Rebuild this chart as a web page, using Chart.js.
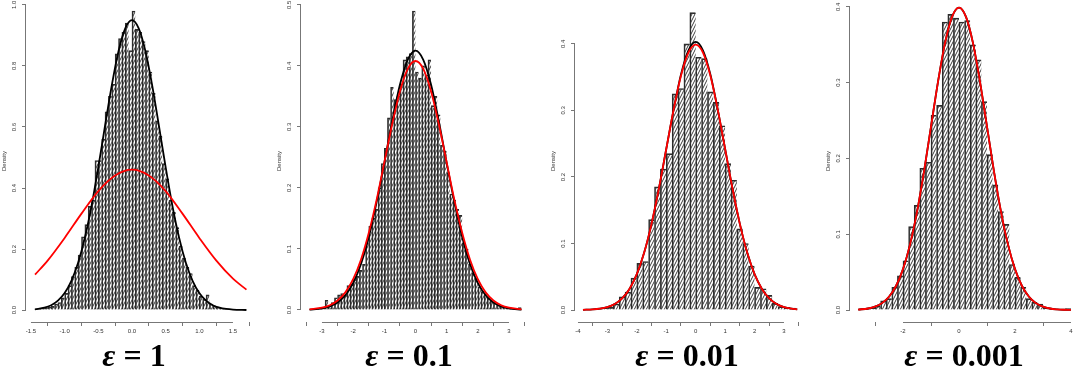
<!DOCTYPE html>
<html>
<head>
<meta charset="utf-8">
<script src="https://cdn.jsdelivr.net/npm/chart.js@4.4.1/dist/chart.umd.min.js"></script>
<style>
  body { margin: 0; background: #fff; overflow: hidden; }
  #wrap { position: relative; width: 1074px; height: 378px; overflow: hidden; }
  canvas { position: absolute; top: 0; }
  .eps { position: absolute; top: 339px; width: 200px; text-align: center;
         font: bold 32px/32px "Liberation Serif", "DejaVu Serif", serif; color: #000; }
  .eps i { font-style: italic; }
</style>
</head>
<body>
<div id="wrap">
  <canvas id="c1" width="256" height="340" style="left:0px"></canvas>
  <canvas id="c2" width="255" height="340" style="left:275px"></canvas>
  <canvas id="c3" width="257" height="340" style="left:549px"></canvas>
  <canvas id="c4" width="250" height="340" style="left:824px"></canvas>
  <div class="eps" style="left:34px"><i>ε</i> = 1</div>
  <div class="eps" style="left:309px"><i>ε</i> = 0.1</div>
  <div class="eps" style="left:587px"><i>ε</i> = 0.01</div>
  <div class="eps" style="left:864px"><i>ε</i> = 0.001</div>
</div>
<script>
// ---- panel 1 : eps = 1 (bins of 0.05)
const bins1 = [-1.425,-1.375,-1.325,-1.275,-1.225,-1.175,-1.125,-1.075,-1.025,-0.975,
  -0.925,-0.875,-0.825,-0.775,-0.725,-0.675,-0.625,-0.575,-0.525,-0.475,
  -0.425,-0.375,-0.325,-0.275,-0.225,-0.175,-0.125,-0.075,-0.025,
  0.025,0.075,0.125,0.175,0.225,0.275,0.325,0.375,0.425,0.475,
  0.525,0.575,0.625,0.675,0.725,0.775,0.825,0.875,0.925,0.975,
  1.025,1.075,1.125,1.175,1.225,1.275,1.325,1.375,1.425,1.475,1.525,1.575,1.625,1.675];
const dens1 = [0.003,0.004,0.006,0.008,0.01,0.012,0.02,0.025,0.04,0.055,
  0.08,0.11,0.14,0.18,0.24,0.28,0.34,0.36,0.49,0.49,
  0.56,0.65,0.70,0.74,0.84,0.89,0.91,0.94,0.85,
  0.98,0.92,0.91,0.88,0.85,0.78,0.71,0.62,0.57,0.48,
  0.43,0.36,0.32,0.27,0.21,0.17,0.14,0.12,0.08,0.065,
  0.045,0.035,0.05,0.02,0.014,0.01,0.006,0.004,0.003,0.002,0.001,0.001,0.0005,0.002];
const curveX1 = [-1.44,-1.3,-1.2,-1.1,-1.0,-0.9,-0.8,-0.7,-0.6,-0.5,-0.4,-0.3,-0.2,-0.1,0,
  0.1,0.2,0.3,0.4,0.5,0.6,0.7,0.8,0.9,1.0,1.1,1.2,1.3,1.4,1.5,1.7];
const black1 = [0.0027,0.0079,0.016,0.031,0.056,0.096,0.155,0.237,0.342,0.468,0.604,0.736,0.848,0.923,0.95,
  0.923,0.848,0.736,0.604,0.468,0.342,0.237,0.155,0.096,0.056,0.031,0.016,0.0079,0.0037,0.0016,0.0003];
const redX1 = [-1.44,-1.25,-1,-0.75,-0.5,-0.25,0,0.25,0.5,0.75,1,1.25,1.5,1.7];
const red1 = [0.116,0.163,0.2365,0.316,0.39,0.441,0.46,0.441,0.39,0.316,0.2365,0.163,0.103,0.067];
const xTicks1 = [-1.5,-1,-0.5,0,0.5,1,1.5];
const xLabels1 = ['-1.5','-1.0','-0.5','0.0','0.5','1.0','1.5'];
const yTicks1 = [0,0.2,0.4,0.6,0.8,1.0];
const yLabels1 = ['0.0','0.2','0.4','0.6','0.8','1.0'];

// ---- panel 2 : eps = 0.1 (bins of 0.1)
const bins2 = [-3.35,-3.25,-3.15,-3.05,-2.95,-2.85,-2.75,-2.65,-2.55,-2.45,
  -2.35,-2.25,-2.15,-2.05,-1.95,-1.85,-1.75,-1.65,-1.55,-1.45,
  -1.35,-1.25,-1.15,-1.05,-0.95,-0.85,-0.75,-0.65,-0.55,-0.45,
  -0.35,-0.25,-0.15,-0.05,0.05,0.15,0.25,0.35,0.45,0.55,
  0.65,0.75,0.85,0.95,1.05,1.15,1.25,1.35,1.45,1.55,
  1.65,1.75,1.85,1.95,2.05,2.15,2.25,2.35,2.45,2.55,
  2.65,2.75,2.85,2.95,3.05,3.15,3.25,3.35];
const dens2 = [0.001,0,0.002,0.002,0.004,0.016,0.007,0.012,0.02,0.025,
  0.027,0.024,0.04,0.042,0.05,0.055,0.065,0.075,0.11,0.137,
  0.15,0.165,0.2,0.24,0.265,0.315,0.365,0.345,0.35,0.37,
  0.41,0.415,0.42,0.49,0.39,0.38,0.40,0.385,0.41,0.335,
  0.35,0.32,0.27,0.26,0.225,0.19,0.18,0.165,0.155,0.11,
  0.10,0.075,0.06,0.052,0.038,0.03,0.027,0.02,0.015,0.012,
  0.008,0.006,0.005,0.003,0.002,0.001,0.001,0.004];
const curveX2 = [-3.4,-3,-2.75,-2.5,-2.25,-2,-1.75,-1.5,-1.25,-1,-0.75,-0.5,-0.25,0,
  0.25,0.5,0.75,1,1.25,1.5,1.75,2,2.25,2.5,2.75,3,3.4];
const black2 = [0.0006,0.0026,0.0059,0.0124,0.0242,0.0442,0.0751,0.119,0.176,0.241,0.309,0.369,0.410,0.425,
  0.410,0.369,0.309,0.241,0.176,0.119,0.0751,0.0442,0.0242,0.0124,0.0059,0.0026,0.0006];
const red2 = [0.001,0.0037,0.0078,0.0156,0.0289,0.0504,0.0823,0.126,0.180,0.242,0.304,0.358,0.395,0.408,
  0.395,0.358,0.304,0.242,0.180,0.126,0.0823,0.0504,0.0289,0.0156,0.0078,0.0037,0.001];
const xTicks2 = [-3,-2,-1,0,1,2,3];
const xLabels2 = ['-3','-2','-1','0','1','2','3'];
const yTicks2 = [0,0.1,0.2,0.3,0.4,0.5];
const yLabels2 = ['0.0','0.1','0.2','0.3','0.4','0.5'];

// ---- panel 3 : eps = 0.01 (bins of 0.2)
const bins3 = [-3.7,-3.5,-3.3,-3.1,-2.9,-2.7,-2.5,-2.3,-2.1,-1.9,-1.7,-1.5,-1.3,-1.1,-0.9,-0.7,-0.5,-0.3,-0.1,
  0.1,0.3,0.5,0.7,0.9,1.1,1.3,1.5,1.7,1.9,2.1,2.3,2.5,2.7,2.9,3.1,3.3];
const dens3 = [0.001,0.001,0.002,0.003,0.004,0.009,0.02,0.027,0.048,0.07,0.073,0.136,0.185,0.212,0.235,0.325,0.333,0.40,0.447,
  0.38,0.378,0.328,0.312,0.277,0.22,0.195,0.122,0.10,0.066,0.034,0.032,0.022,0.01,0.005,0.004,0.003];
const curveX3 = [-3.83,-3.5,-3.25,-3,-2.75,-2.5,-2.25,-2,-1.75,-1.5,-1.25,-1,-0.75,-0.5,-0.25,0,
  0.25,0.5,0.75,1,1.25,1.5,1.75,2,2.25,2.5,2.75,3,3.25,3.45];
const black3 = [0.0003,0.0009,0.002,0.0044,0.0091,0.0175,0.0317,0.054,0.0863,0.1295,0.1826,0.242,0.3011,0.354,0.390,0.403,
  0.390,0.354,0.3011,0.242,0.1826,0.1295,0.0863,0.054,0.0317,0.0175,0.0091,0.0044,0.002,0.001];
const red3 = [0.0003,0.0009,0.002,0.0044,0.0091,0.0175,0.0317,0.054,0.0863,0.1295,0.1826,0.242,0.3011,0.3521,0.3867,0.3989,
  0.3867,0.3521,0.3011,0.242,0.1826,0.1295,0.0863,0.054,0.0317,0.0175,0.0091,0.0044,0.002,0.001];
const xTicks3 = [-4,-3,-2,-1,0,1,2,3];
const xLabels3 = ['-4','-3','-2','-1','0','1','2','3'];
const yTicks3 = [0,0.1,0.2,0.3,0.4];
const yLabels3 = ['0.0','0.1','0.2','0.3','0.4'];

// ---- panel 4 : eps = 0.001 (bins of 0.2)
const bins4 = [-3.5,-3.3,-3.1,-2.9,-2.7,-2.5,-2.3,-2.1,-1.9,-1.7,-1.5,-1.3,-1.1,-0.9,-0.7,-0.5,-0.3,-0.1,
  0.1,0.3,0.5,0.7,0.9,1.1,1.3,1.5,1.7,1.9,2.1,2.3,2.5,2.7,2.9,3.1,3.3,3.5,3.7,3.9];
const dens4 = [0.001,0.001,0.003,0.005,0.012,0.015,0.03,0.045,0.065,0.11,0.138,0.187,0.195,0.257,0.27,0.38,0.39,0.385,
  0.38,0.382,0.35,0.33,0.275,0.205,0.165,0.13,0.113,0.06,0.043,0.03,0.015,0.01,0.008,0.003,0.002,0.001,0.0005,0.002];
const curveX4 = [-3.6,-3.25,-3,-2.75,-2.5,-2.25,-2,-1.75,-1.5,-1.25,-1,-0.75,-0.5,-0.25,0,
  0.25,0.5,0.75,1,1.25,1.5,1.75,2,2.25,2.5,2.75,3,3.25,3.5,3.75,4.0];
const black4 = [0.0006,0.002,0.0044,0.0091,0.0175,0.0317,0.054,0.0863,0.1295,0.1826,0.242,0.3011,0.3521,0.3867,0.3989,
  0.3867,0.3521,0.3011,0.242,0.1826,0.1295,0.0863,0.054,0.0317,0.0175,0.0091,0.0044,0.002,0.0009,0.00035,0.00013];
const red4 = [0.0006,0.002,0.0044,0.0091,0.0175,0.0317,0.054,0.0863,0.1295,0.1826,0.242,0.3011,0.3521,0.3867,0.3989,
  0.3867,0.3521,0.3011,0.242,0.1826,0.1295,0.0863,0.054,0.0317,0.0175,0.0091,0.0044,0.002,0.0009,0.00035,0.00013];
const xTicks4 = [-2,0,2,4];
const xLabels4 = ['-2','0','2','4'];
const yTicks4 = [0,0.1,0.2,0.3,0.4];
const yLabels4 = ['0.0','0.1','0.2','0.3','0.4'];

const tickFont = { family: '"Liberation Sans", Arial, sans-serif', size: 6 };
const inkColor = '#333';

//  R style axis lines: only from first to last tick
const rAxes = {
    id: 'rAxes',
    afterDraw(chart) {
        const { ctx } = chart;
        const sx = chart.scales.x, sy = chart.scales.y;
        const xt = sx.ticks, yt = sy.ticks;
        ctx.save();
        ctx.strokeStyle = '#777';
        ctx.lineWidth = 1;
        ctx.beginPath();
        ctx.moveTo(sx.getPixelForValue(xt[0].value), sx.top + 0.5);
        ctx.lineTo(sx.getPixelForValue(xt[xt.length - 1].value), sx.top + 0.5);
        ctx.moveTo(sy.right - 0.5, sy.getPixelForValue(yt[0].value));
        ctx.lineTo(sy.right - 0.5, sy.getPixelForValue(yt[yt.length - 1].value));
        ctx.stroke();
        ctx.restore();
    }
};

//  diagonal hatching like R's density= fill
const hatch = (el) => {
    const c = document.createElement('canvas');
    c.width = 3; c.height = 6;
    const g = c.getContext('2d');
    g.strokeStyle = '#3c3c3c';
    g.lineWidth = 1;
    g.beginPath();
    g.moveTo(-3, 6); g.lineTo(0, 0);
    g.moveTo(0, 6); g.lineTo(3, 0);
    g.moveTo(3, 6); g.lineTo(6, 0);
    g.stroke();
    return el.getContext('2d').createPattern(c, 'repeat');
};

const pts = (xs, ys) => xs.map((x, i) => ({ x, y: ys[i] }));

const drawPanel = (id, p) => {
    const el = document.getElementById(id);
    new Chart(el, {
        type: 'bar',
        data: {
            datasets: [
                { type: 'line', data: pts(p.redX, p.red), borderColor: '#ff0000', borderWidth: 1.8,
                  pointRadius: 0, cubicInterpolationMode: 'monotone', order: 1 },
                { type: 'line', data: pts(p.blackX, p.black), borderColor: '#000', borderWidth: 1.8,
                  pointRadius: 0, cubicInterpolationMode: 'monotone', order: 2 },
                { type: 'bar', data: pts(p.bins, p.dens), backgroundColor: hatch(el), borderColor: '#2b2b2b',
                  borderWidth: { left: 1, top: 1, right: 0, bottom: 0 }, borderSkipped: false,
                  barPercentage: 1, categoryPercentage: 1, order: 3 }
            ]
        },
        options: {
            responsive: false,
            animation: false,
            events: [],
            layout: { padding: 0 },
            plugins: { legend: { display: false }, tooltip: { enabled: false } },
            scales: {
                x: {
                    type: 'linear', min: p.xMin, max: p.xMax, offset: false, bounds: 'data',
                    afterBuildTicks: s => { s.ticks = p.xTicks.map(v => ({ value: v })); },
                    afterFit: s => { s.height = 18; s.paddingLeft = 0; s.paddingRight = 0; },
                    ticks: { font: tickFont, color: inkColor, padding: 2, maxRotation: 0, autoSkip: false,
                             callback: (v, i) => p.xLabels[i] },
                    grid: { drawOnChartArea: false, tickLength: 4, color: '#777' },
                    border: { display: false }
                },
                y: {
                    min: p.yMin, max: p.yMax,
                    afterBuildTicks: s => { s.ticks = p.yTicks.map(v => ({ value: v })); },
                    afterFit: s => { s.width = 26; s.paddingTop = 0; s.paddingBottom = 0; },
                    ticks: { font: tickFont, color: inkColor, padding: 3, minRotation: 90, maxRotation: 90,
                             crossAlign: 'center', autoSkip: false, callback: (v, i) => p.yLabels[i] },
                    grid: { drawOnChartArea: false, tickLength: 4, color: '#777' },
                    border: { display: false },
                    title: { display: true, text: 'Density', font: tickFont, color: inkColor,
                             padding: { top: 1, bottom: 0 } }
                }
            }
        },
        plugins: [rAxes]
    });
};

drawPanel('c1', { bins: bins1, dens: dens1, blackX: curveX1, black: black1, redX: redX1, red: red1,
    xTicks: xTicks1, xLabels: xLabels1, yTicks: yTicks1, yLabels: yLabels1,
    xMin: -1.574, xMax: 1.842, yMin: -0.039, yMax: 1.016 });
drawPanel('c2', { bins: bins2, dens: dens2, blackX: curveX2, black: black2, redX: curveX2, red: red2,
    xTicks: xTicks2, xLabels: xLabels2, yTicks: yTicks2, yLabels: yLabels2,
    xMin: -3.673, xMax: 3.673, yMin: -0.0197, yMax: 0.508 });
drawPanel('c3', { bins: bins3, dens: dens3, blackX: curveX3, black: black3, redX: curveX3, red: red3,
    xTicks: xTicks3, xLabels: xLabels3, yTicks: yTicks3, yLabels: yLabels3,
    xMin: -4.101, xMax: 3.748, yMin: -0.018, yMax: 0.466 });
drawPanel('c4', { bins: bins4, dens: dens4, blackX: curveX4, black: black4, redX: curveX4, red: red4,
    xTicks: xTicks4, xLabels: xLabels4, yTicks: yTicks4, yLabels: yLabels4,
    xMin: -3.893, xMax: 4.107, yMin: -0.0158, yMax: 0.409 });
</script>
</body>
</html>
